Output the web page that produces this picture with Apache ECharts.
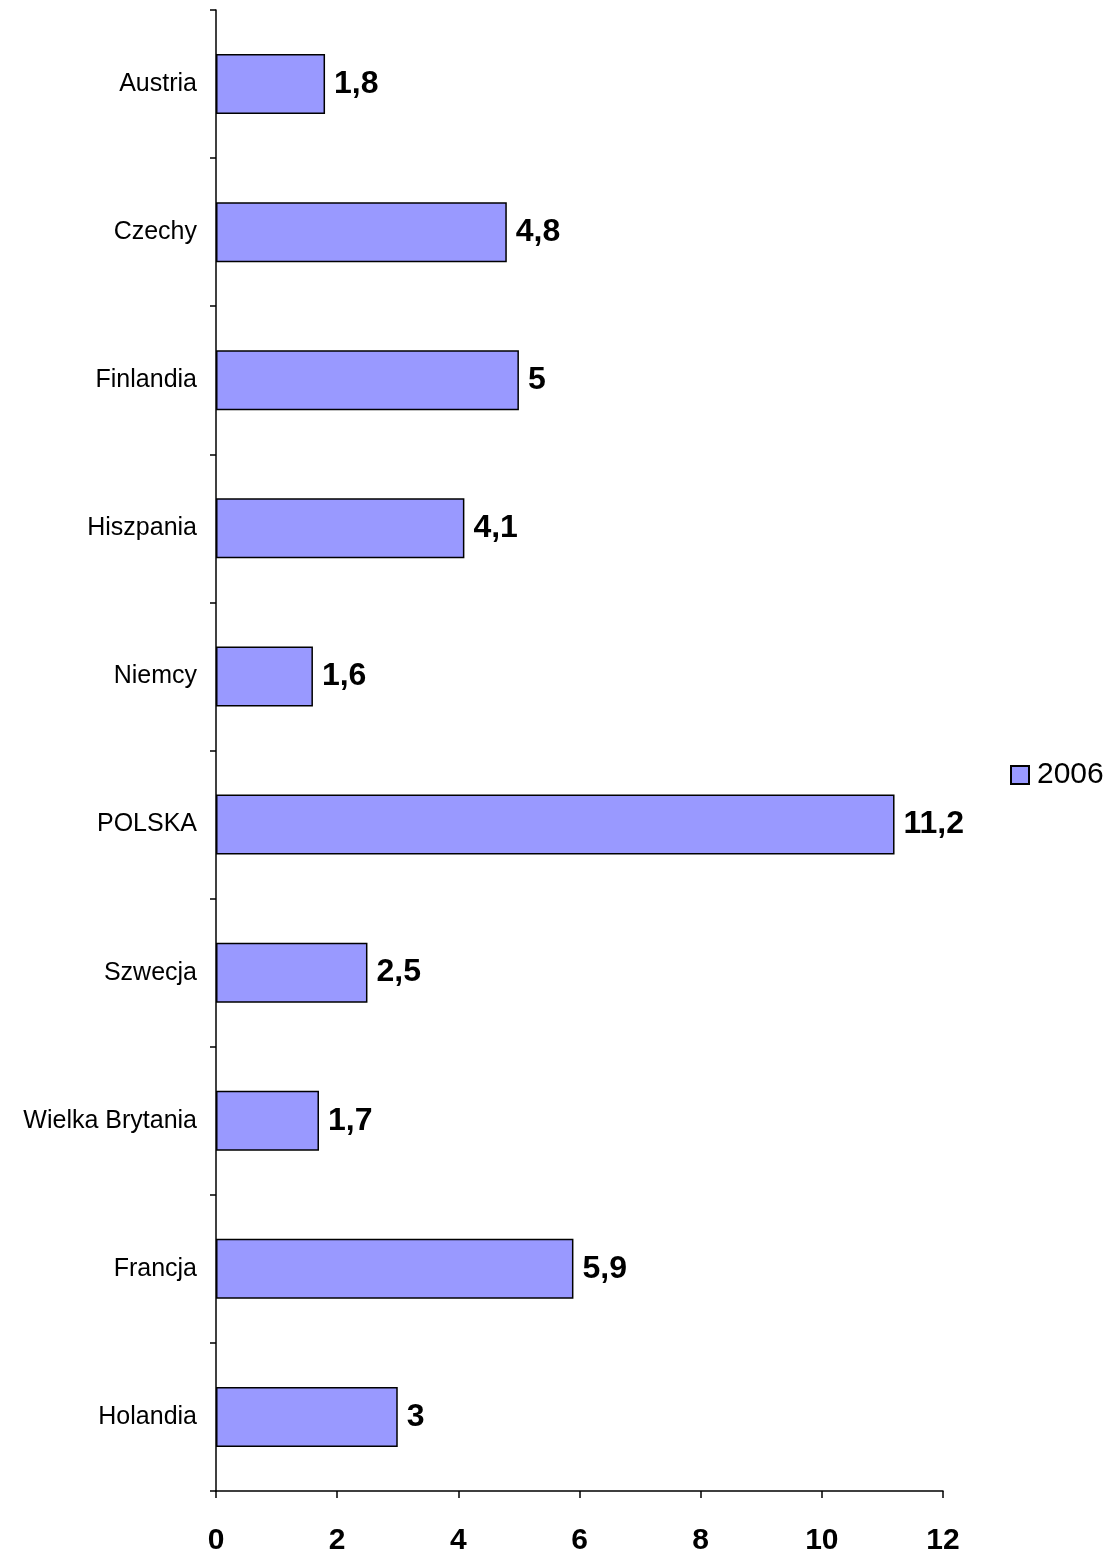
<!DOCTYPE html>
<html>
<head>
<meta charset="utf-8">
<script src="https://cdn.jsdelivr.net/npm/echarts@6/dist/echarts.min.js"></script>
<style>
html,body{margin:0;padding:0;background:#fff;}
#chart{width:1110px;height:1558px;}
</style>
</head>
<body>
<div id="chart"></div>
<script>
const categories = ["Austria","Czechy","Finlandia","Hiszpania","Niemcy","POLSKA","Szwecja","Wielka Brytania","Francja","Holandia"];
const values2006 = [1.8,4.8,5,4.1,1.6,11.2,2.5,1.7,5.9,3];
const seriesName = "2006";
const xTicks = {min:0, max:12, interval:2};

const FONT = '"Liberation Sans", Arial, sans-serif';
const chart = echarts.init(document.getElementById('chart'), null, {renderer:'canvas'});
chart.setOption({
  animation:false,
  backgroundColor:'#ffffff',
  grid:{left:216, top:10, right:167, bottom:67, containLabel:false},
  legend:{
    data:[seriesName],
    left:1005, top:755,
    orient:'vertical',
    icon:'rect',
    itemWidth:18, itemHeight:18, itemGap:5,
    textStyle:{fontFamily:FONT, fontSize:30, color:'#000', padding:[0,0,0,3]}
  },
  xAxis:{
    type:'value',
    min:xTicks.min, max:xTicks.max, interval:xTicks.interval,
    axisLine:{show:true, lineStyle:{color:'#000', width:1.5}},
    axisTick:{show:true, length:7, inside:false, lineStyle:{color:'#000', width:1.5}},
    splitLine:{show:false},
    axisLabel:{fontFamily:FONT, fontSize:30, fontWeight:'bold', color:'#000', margin:35}
  },
  yAxis:{
    type:'category',
    data:categories,
    inverse:true,
    axisLine:{show:true, lineStyle:{color:'#000', width:1.5}},
    axisTick:{show:true, length:6, inside:false, lineStyle:{color:'#000', width:1.5}},
    splitLine:{show:false},
    axisLabel:{fontFamily:FONT, fontSize:25, color:'#000', margin:19}
  },
  series:[{
    name:seriesName,
    type:'bar',
    data:values2006,
    barWidth:60,
    itemStyle:{color:'#9999FF', borderColor:'#000', borderWidth:1.5},
    label:{
      show:true, position:'right', distance:9,
      fontFamily:FONT, fontSize:32, fontWeight:'bold', color:'#000',
      formatter:p => String(p.value).replace('.', ',')
    }
  }]
});
</script>
</body>
</html>
